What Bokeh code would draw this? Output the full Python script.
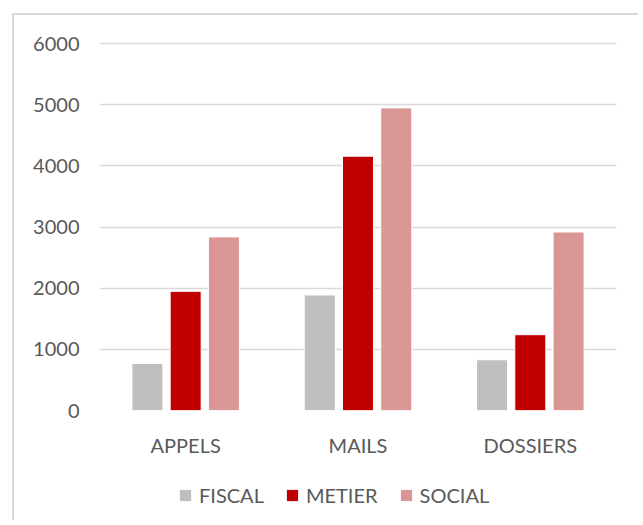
from bokeh.plotting import figure
from bokeh.layouts import column
from bokeh.models import Range1d, Legend, LegendItem, ColumnDataSource
from bokeh.transform import dodge
from bokeh.embed import file_html
from bokeh.resources import INLINE

categories = ["APPELS", "MAILS", "DOSSIERS"]
series = ["FISCAL", "METIER", "SOCIAL"]
fiscal = [770, 1890, 830]
metier = [1950, 4160, 1240]
social = [2840, 4950, 2920]
colors = ["#BFBFBF", "#C00000", "#D99694"]
y_ticks = [0, 1000, 2000, 3000, 4000, 5000, 6000]

FONT = "Lato"
TXT = "#595959"

src = ColumnDataSource(dict(cat=categories, FISCAL=fiscal, METIER=metier, SOCIAL=social))
offsets = [-0.222, 0.0, 0.222]

p = figure(x_range=categories, y_range=Range1d(0, 6020),
           width=638, height=464, output_backend="svg", toolbar_location=None,
           min_border_left=99, min_border_right=22, min_border_top=42, min_border_bottom=54)
p.border_fill_color = None

for s, off, c in zip(series, offsets, colors):
    p.vbar(x=dodge("cat", off, range=p.x_range), top=s, width=0.18, source=src,
           fill_color=c, line_color="white", line_width=1)

p.outline_line_color = None
p.background_fill_color = "white"
p.xgrid.grid_line_color = None
p.ygrid.grid_line_color = "#D9D9D9"
p.ygrid.grid_line_width = 1.5
p.yaxis.ticker = y_ticks

for ax in (p.xaxis, p.yaxis):
    ax.axis_line_color = None
    ax.major_tick_line_color = None
    ax.minor_tick_line_color = None
    ax.major_tick_out = 0
    ax.major_tick_in = 0
    ax.major_label_text_font = FONT
    ax.major_label_text_font_size = "20px"
    ax.major_label_text_color = TXT
p.yaxis.major_label_standoff = 20
p.xaxis.major_label_standoff = 22

# legend strip: hidden renderers, only the legend shows
p2 = figure(width=638, height=56, output_backend="svg", toolbar_location=None,
            x_range=p.x_range, y_range=Range1d(-2, -1),
            x_axis_location=None, y_axis_location=None,
            min_border_left=0, min_border_right=0, min_border_top=0, min_border_bottom=0)
p2.grid.visible = False
p2.outline_line_color = None
p2.background_fill_color = None
p2.border_fill_color = None
leg_renderers = []
for s, off, c in zip(series, offsets, colors):
    r = p2.vbar(x=dodge("cat", off, range=p2.x_range), top=s, width=0.18, source=src,
                fill_color=c, line_color=None, visible=False)
    leg_renderers.append(r)

legend = Legend(items=[LegendItem(label=s, renderers=[r]) for s, r in zip(series, leg_renderers)],
                orientation="horizontal", location=(79, 13),
                glyph_width=14, glyph_height=14, label_standoff=7, spacing=21,
                padding=0, margin=0, border_line_color=None, background_fill_alpha=0,
                inactive_fill_alpha=0,
                label_text_font=FONT, label_text_font_size="20px", label_text_color=TXT,
                label_height=14)
p2.add_layout(legend, "center")

layout = column(p, p2, spacing=0)
layout.styles = {"box-shadow": "inset 12px 13px 0 0 white, inset 14px 15px 0 0 #D9D9D9"}

open("out.html", "w").write(file_html(layout, INLINE))
